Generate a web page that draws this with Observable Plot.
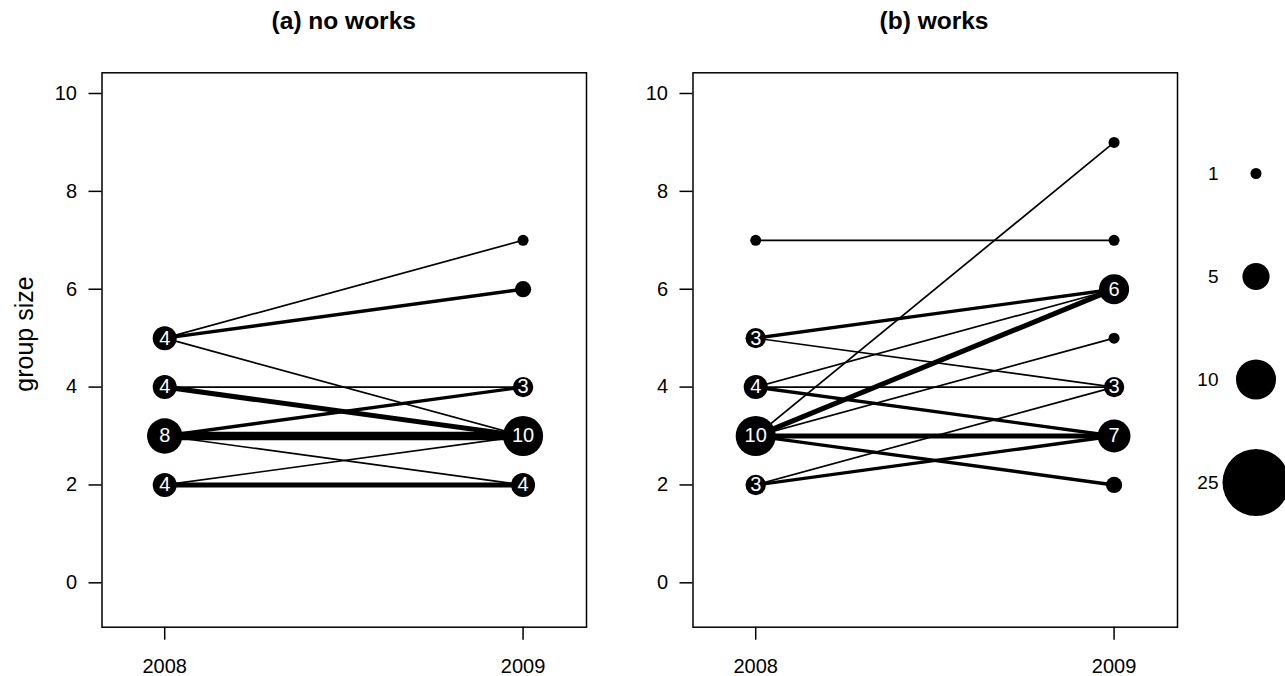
<!DOCTYPE html>
<html>
<head>
<meta charset="utf-8">
<script src="https://cdn.jsdelivr.net/npm/d3@7"></script>
<script src="https://cdn.jsdelivr.net/npm/@observablehq/plot@0.6"></script>
<style>
  html, body { margin: 0; padding: 0; background: white; }
  #wrap { position: relative; width: 1285px; height: 676px; overflow: hidden; background: white;
          font-family: "Liberation Sans", Arial, Helvetica, sans-serif; color: black; }
  .title { position: absolute; top: 8.6px; font-size: 24.5px; font-weight: bold; line-height: 1;
           transform: translateX(-50%); white-space: nowrap; }
  .ylab { position: absolute; left: 24px; top: 334px; font-size: 25px; line-height: 1; white-space: nowrap;
          transform: translate(-50%, -50%) rotate(-90deg); }
</style>
</head>
<body>
<div id="wrap">
  <div class="title" style="left:343.75px">(a) no works</div>
  <div class="title" style="left:934px">(b) works</div>
  <div class="ylab">group size</div>
</div>
<script>
// ---- data ----
const years = [2008, 2009];
const yTicks = [0, 2, 4, 6, 8, 10];

// panel (a) "no works": transitions 2008 -> 2009 (group size), with counts
const aFrom = [5, 5, 5, 4, 4, 3, 3, 3, 2, 2];
const aTo   = [7, 6, 3, 4, 3, 4, 3, 2, 3, 2];
const aW    = [1, 2, 1, 1, 3, 2, 5, 1, 1, 3];
const aSize2008 = [5, 4, 3, 2];
const aN2008    = [4, 4, 8, 4];
const aSize2009 = [7, 6, 4, 3, 2];
const aN2009    = [1, 2, 3, 10, 4];

// panel (b) "works"
const bFrom = [7, 5, 5, 4, 4, 4, 3, 3, 3, 3, 3, 2, 2];
const bTo   = [7, 6, 4, 6, 4, 3, 9, 6, 5, 3, 2, 4, 3];
const bW    = [1, 2, 1, 1, 1, 2, 1, 3, 1, 3, 2, 1, 2];
const bSize2008 = [7, 5, 4, 3, 2];
const bN2008    = [1, 3, 4, 10, 3];
const bSize2009 = [9, 7, 6, 5, 4, 3, 2];
const bN2009    = [1, 1, 6, 1, 3, 7, 2];

// legend
const legendVals = [1, 5, 10, 25];

// ---- helpers ----
const FONT = '"Liberation Sans", Arial, Helvetica, sans-serif';
const rScale = {type: "pow", exponent: 0.561, domain: [0, 25], range: [0, 33.5]};

function edges(from, to, w) {
  return from.map((f, i) => ({x1: years[0], x2: years[1], y1: f, y2: to[i], w: w[i]}));
}
function nodes(s08, n08, s09, n09) {
  return [
    ...s08.map((s, i) => ({year: years[0], size: s, n: n08[i]})),
    ...s09.map((s, i) => ({year: years[1], size: s, n: n09[i]}))
  ];
}

function panel(E, N, left) {
  const p = Plot.plot({
    width: 600, height: 676,
    marginLeft: 101.5, marginRight: 14, marginTop: 72.3, marginBottom: 49.3,
    style: {fontFamily: FONT, background: "transparent", overflow: "visible"},
    x: {domain: [2007.825, 2009.177]},
    y: {domain: [-0.907, 10.423]},
    r: rScale,
    marks: [
      Plot.axisX({ticks: years, tickFormat: "d", tickSize: 13, tickPadding: 19, fontSize: 20,
                  strokeWidth: 1.5, label: null, fill: "black"}),
      Plot.axisY({ticks: yTicks, tickSize: 13, tickPadding: 12, fontSize: 20,
                  strokeWidth: 1.5, label: null, fill: "black"}),
      Plot.link(E, {x1: "x1", x2: "x2", y1: "y1", y2: "y2", stroke: "black",
                    strokeWidth: d => 1.7 * d.w}),
      Plot.dot(N, {x: "year", y: "size", r: "n", fill: "black"}),
      Plot.text(N.filter(d => d.n >= 3), {x: "year", y: "size", text: d => String(d.n),
                    fill: "white", fontSize: 20}),
      Plot.frame({stroke: "black", strokeWidth: 1.5})
    ]
  });
  p.style.position = "absolute";
  p.style.left = left + "px";
  p.style.top = "0px";
  document.getElementById("wrap").appendChild(p);
}

panel(edges(aFrom, aTo, aW), nodes(aSize2008, aN2008, aSize2009, aN2009), 0);
panel(edges(bFrom, bTo, bW), nodes(bSize2008, bN2008, bSize2009, bN2009), 590.5);

// legend
const leg = Plot.plot({
  width: 105, height: 676,
  marginLeft: 46, marginRight: 0, marginTop: 0, marginBottom: 0,
  style: {fontFamily: FONT, background: "transparent", overflow: "visible"},
  x: {axis: null},
  y: {type: "point", domain: legendVals, range: [172, 483], padding: 0, axis: null},
  r: rScale,
  marks: [
    Plot.dot(legendVals, {y: d => d, r: d => d, fill: "black"}),
    Plot.text(legendVals, {y: d => d, text: d => String(d), frameAnchor: "left", dx: -8,
                           textAnchor: "end", fontSize: 19, fill: "black"})
  ]
});
leg.style.position = "absolute";
leg.style.left = "1180px";
leg.style.top = "0px";
document.getElementById("wrap").appendChild(leg);
</script>
</body>
</html>
